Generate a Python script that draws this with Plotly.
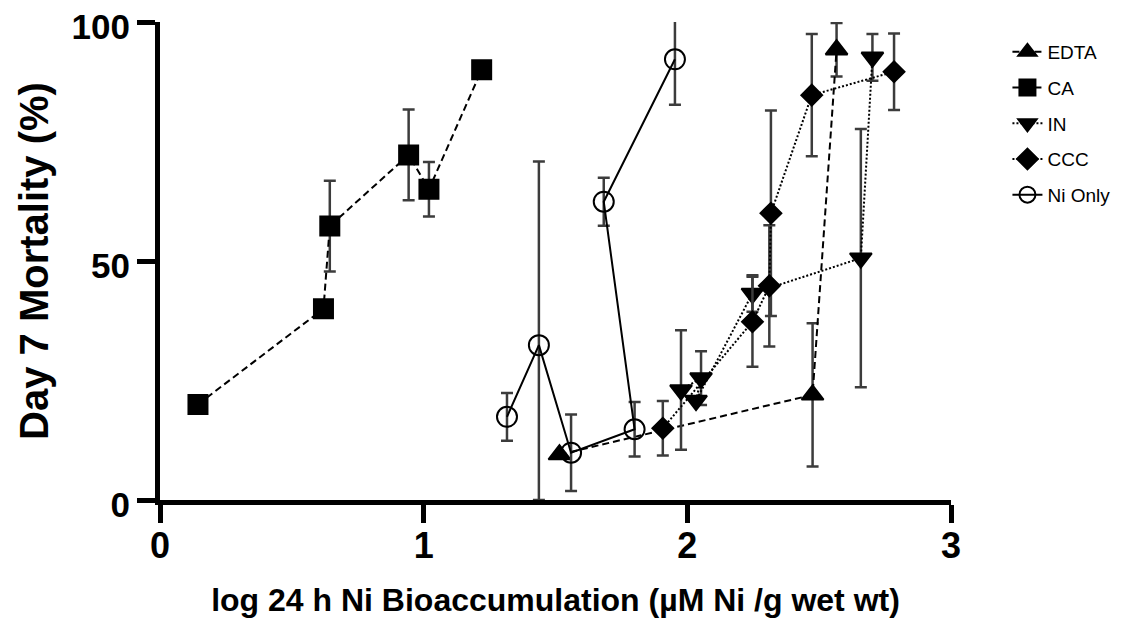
import plotly.graph_objects as go

# EDTA (filled triangle up, dashed)
edta_x = [1.515, 2.475, 2.566]
edta_y = [9.5, 22.0, 94.2]
edta_err = [0, 15.0, 5.6]

# CA (filled square, dashed)
ca_x = [0.144, 0.620, 0.644, 0.943, 1.020, 1.220]
ca_y = [20.0, 40.0, 57.3, 72.2, 65.0, 90.0]
ca_err = [0, 0, 9.5, 9.5, 5.7, 0]

# IN (filled triangle down, dotted)
in_x = [1.976, 2.052, 2.033, 2.247, 2.658, 2.702]
in_y = [23.0, 25.5, 20.8, 43.2, 50.6, 92.6]
in_err = [12.5, 5.6, 0, 3.8, 27.0, 4.9]

# CCC (filled diamond, dotted)
ccc_x = [1.907, 2.247, 2.311, 2.317, 2.472, 2.784]
ccc_y = [15.0, 37.3, 44.8, 60.0, 84.7, 89.6]
ccc_err = [5.7, 9.4, 12.7, 21.5, 12.8, 8.0]

# Ni only (open circle, solid)
ni_x = [1.316, 1.437, 1.559, 1.800, 1.683, 1.953]
ni_y = [17.4, 32.4, 9.9, 14.8, 62.4, 92.2]
ni_err_plus = [5.0, 38.4, 8.0, 5.7, 5.0, 9.5]
ni_err_minus = [5.0, 32.4, 8.0, 5.7, 5.0, 9.5]

FONT = "Liberation Sans"
ERR_COLOR = "#3c3c3c"


def err(vals, minus=None):
    d = dict(type="data", array=vals, color=ERR_COLOR, thickness=2.5, width=6)
    if minus is not None:
        d["symmetric"] = False
        d["arrayminus"] = minus
    return d


series = [
    ("EDTA", edta_x, edta_y, err(edta_err), "triangle-up", 19, "7px,4px"),
    ("CA", ca_x, ca_y, err(ca_err), "square", 19, "7px,4px"),
    ("IN", in_x, in_y, err(in_err), "triangle-down", 19, "2px,2px"),
    ("CCC", ccc_x, ccc_y, err(ccc_err), "diamond", 16, "2px,2px"),
    ("Ni Only", ni_x, ni_y, err(ni_err_plus, ni_err_minus), "circle-open", 20, "solid"),
]

fig = go.Figure()
for name, xs, ys, e, sym, size, dash in series:
    fig.add_trace(go.Scatter(
        x=xs, y=ys, name=name, mode="lines+markers",
        legendgroup=name,
        line=dict(color="black", width=2, dash=dash),
        marker=dict(symbol=sym, size=size, color="black",
                    line=dict(color="black", width=2)),
        error_y=e,
        cliponaxis=False,
    ))

fig.update_xaxes(
    range=[0, 3], tickvals=[0, 1, 2, 3], automargin=False,
    showline=True, linewidth=5, linecolor="black",
    ticks="outside", ticklen=18, tickwidth=5, tickcolor="black",
    ticklabelstandoff=-8, ticklabeloverflow="allow",
    showgrid=False, zeroline=False,
    tickfont=dict(family=FONT, size=36, color="black", weight="bold"),
    title=dict(text="log 24 h Ni Bioaccumulation (\u00b5M Ni /g wet wt)",
               font=dict(family=FONT, size=32, color="black", weight="bold"),
               standoff=30),
)
# labels nudged down a little so "100" stays inside the figure
fig.update_yaxes(
    range=[0, 100], tickvals=[0, 50, 100], automargin=False,
    showline=True, linewidth=5, linecolor="black",
    ticks="outside", ticklen=18, tickwidth=5, tickcolor="black",
    ticklabeloverflow="allow", ticklabelshift=5,
    showgrid=False, zeroline=False,
    tickfont=dict(family=FONT, size=35, color="black", weight="bold"),
    title=dict(text="Day 7 Mortality (%)",
               font=dict(family=FONT, size=40, color="black", weight="bold"),
               standoff=12),
)

# page body adds an 8px margin, so the figure sits 8px in from the window edge
fig.update_layout(
    width=1118, height=610,
    margin=dict(l=152, r=174, t=14, b=118),
    paper_bgcolor="white", plot_bgcolor="white",
    legend=dict(x=1.07, y=0.977, xanchor="left", yanchor="top",
                font=dict(family=FONT, size=19, color="black"),
                tracegroupgap=8, bgcolor="rgba(0,0,0,0)"),
)

fig.write_html("out.html")
